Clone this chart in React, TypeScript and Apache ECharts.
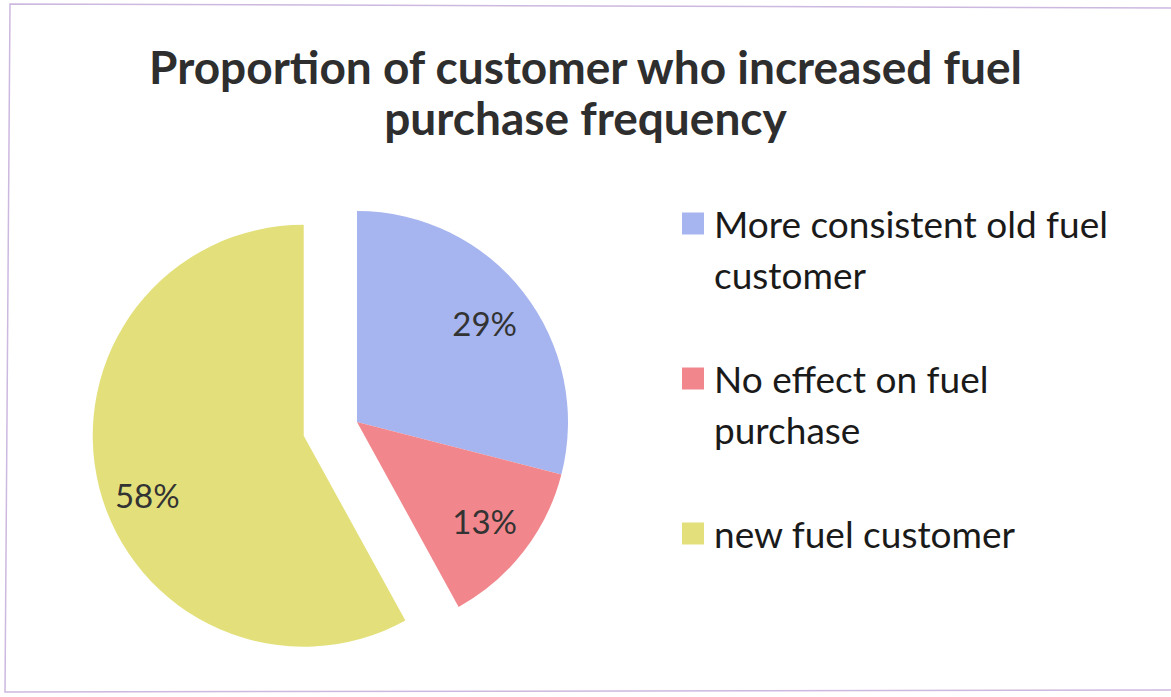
import React, { useEffect, useRef } from "react";
import * as echarts from "echarts";

const categories = [
  "More consistent old fuel customer",
  "No effect on fuel purchase",
  "new fuel customer",
];
const legendLines = [
  "\nMore consistent old fuel\ncustomer",
  "\nNo effect on fuel\npurchase",
  "\nnew fuel customer\n",
];
const values = [29, 13, 58];
const colors = ["#a6b5ef", "#f1878c", "#e3e07b"];
const selectedFlags = [false, false, true];

export default function App() {
  const ref = useRef<HTMLDivElement>(null);
  useEffect(() => {
    if (!ref.current) return;
    const chart = echarts.init(ref.current, undefined, { renderer: "svg" });
    const mainData = categories.map((name, i) => ({
      name,
      value: values[i],
      selected: selectedFlags[i],
      itemStyle: { color: colors[i] },
    }));
    const labelData = categories.map((name, i) => ({
      name,
      value: values[i],
      selected: selectedFlags[i],
    }));
    const legendMap: Record<string, string> = {};
    categories.forEach((c, i) => (legendMap[c] = legendLines[i]));
    chart.setOption({
      animation: false,
      backgroundColor: "#ffffff",
      title: {
        text: "Proportion of customer who increased fuel\npurchase frequency",
        left: "center",
        top: 41,
        padding: 0,
        textStyle: {
          fontFamily: "Lato",
          fontWeight: "bold",
          fontSize: 46,
          lineHeight: 51,
          color: "#2e2e2e",
        },
      },
      legend: {
        orient: "vertical",
        left: 682,
        top: 147,
        padding: 0,
        itemWidth: 22,
        itemHeight: 22,
        itemGap: 2,
        icon: "rect",
        selectedMode: false,
        data: categories,
        formatter: (name: string) => legendMap[name],
        textStyle: {
          fontFamily: "Lato",
          fontSize: 37,
          lineHeight: 51,
          color: "#1a1a1a",
          padding: [0, 0, 0, 5],
        },
      },
      graphic: [
        {
          type: "polyline",
          silent: true,
          shape: {
            points: [
              [1171, 8],
              [10, 4],
              [5, 692],
              [1171, 690],
            ],
          },
          style: { stroke: "#cdb8e0", lineWidth: 1.5, fill: "none" },
        },
      ],
      series: [
        {
          type: "pie",
          center: [357, 422],
          radius: [0, 211],
          startAngle: 90,
          clockwise: true,
          selectedMode: "single",
          selectedOffset: 55,
          label: { show: false },
          labelLine: { show: false },
          emphasis: { disabled: true },
          data: mainData,
        },
        {
          type: "pie",
          center: [357, 422],
          radius: [106, 211],
          startAngle: 90,
          clockwise: true,
          selectedMode: "single",
          selectedOffset: 55,
          silent: true,
          itemStyle: { color: "rgba(0,0,0,0)" },
          label: {
            show: true,
            position: "inside",
            formatter: (p: any) =>
              selectedFlags[p.dataIndex]
                ? "{gap|}\n{v|" + p.value + "%}"
                : "{v|" + p.value + "%}",
            rich: {
              v: {
                fontFamily: "Lato",
                fontSize: 33,
                lineHeight: 38,
                color: "#333333",
              },
              gap: { fontSize: 10, lineHeight: 38 },
            },
          },
          labelLine: { show: false },
          emphasis: { disabled: true },
          data: labelData,
        },
      ],
    });
    return () => chart.dispose();
  }, []);
  return (
    <div
      ref={ref}
      style={{ position: "fixed", left: 0, top: 0, width: 1171, height: 697 }}
    />
  );
}
